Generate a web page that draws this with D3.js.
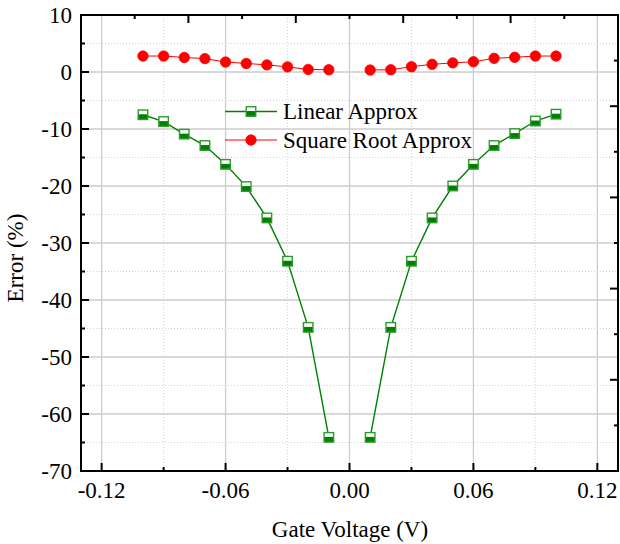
<!DOCTYPE html>
<html>
<head>
<meta charset="utf-8">
<script src="https://cdn.jsdelivr.net/npm/d3@7/dist/d3.min.js"></script>
<style>
  html, body { margin: 0; padding: 0; background: #fff; }
  svg { display: block; }
  text { font-family: "Liberation Serif", "Times New Roman", serif; fill: #000; }
</style>
</head>
<body>
<svg id="chart" width="620" height="544"></svg>
<script>
// Gate voltage sweep (V); no sample at 0 V
const voltages = [-0.10, -0.09, -0.08, -0.07, -0.06, -0.05, -0.04, -0.03, -0.02, -0.01,
                   0.01,  0.02,  0.03,  0.04,  0.05,  0.06,  0.07,  0.08,  0.09,  0.10];
// Error (%) of each approximation
const linearError = [-7.5, -8.7, -10.9, -12.9, -16.2, -20.1, -25.6, -33.2, -44.8, -64.1,
                     -64.1, -44.8, -33.2, -25.6, -20.0, -16.2, -12.9, -10.8, -8.6, -7.4];
const sqrtError   = [2.8, 2.8, 2.55, 2.35, 1.75, 1.5, 1.25, 0.9, 0.45, 0.4,
                     0.35, 0.4, 0.93, 1.35, 1.6, 1.8, 2.4, 2.58, 2.8, 2.8];
const seriesNames = ["Linear Approx", "Square Root Approx"];

// Axis ticks and labels
const xMajorTicks = [-0.12, -0.06, 0.00, 0.06, 0.12];
const xMajorLabels = ["-0.12", "-0.06", "0.00", "0.06", "0.12"];
const xMinorTicks = [-0.09, -0.03, 0.03, 0.09];
const yMajorTicks = [10, 0, -10, -20, -30, -40, -50, -60, -70];
const yMajorLabels = ["10", "0", "-10", "-20", "-30", "-40", "-50", "-60", "-70"];
const yMinorTicks = [5, -5, -15, -25, -35, -45, -55, -65];
const xTitle = "Gate Voltage (V)";
const yTitle = "Error (%)";

const green = "#008000";
const red = "#ff0000";
const plot = { left: 81, right: 618, top: 15, bottom: 471 };

const svg = d3.select("#chart");
const x = d3.scaleLinear().domain([-0.13, 0.13]).range([plot.left, plot.right]);
const y = d3.scaleLinear().domain([-70, 10]).range([plot.bottom, plot.top]);
// secondary (unlabelled) frame scales for the top and right edges
const xTop = d3.scaleLinear().domain([0, 10]).range([plot.left, plot.right]);
const yRight = d3.scaleLinear().domain([0, 10]).range([plot.top, plot.bottom]);

// grid: dotted minor lines, solid major lines
const grid = svg.append("g");
grid.selectAll(".vminor").data(xMinorTicks).join("line")
  .attr("x1", d => x(d)).attr("x2", d => x(d))
  .attr("y1", plot.top).attr("y2", plot.bottom)
  .attr("stroke", "#d4d4d4").attr("stroke-width", 1).attr("stroke-dasharray", "1,2");
grid.selectAll(".hminor").data(yMinorTicks).join("line")
  .attr("y1", d => y(d)).attr("y2", d => y(d))
  .attr("x1", plot.left).attr("x2", plot.right)
  .attr("stroke", "#d4d4d4").attr("stroke-width", 1).attr("stroke-dasharray", "1,2");
grid.selectAll(".vmajor").data(xMajorTicks).join("line")
  .attr("x1", d => x(d)).attr("x2", d => x(d))
  .attr("y1", plot.top).attr("y2", plot.bottom)
  .attr("stroke", "#cccccc").attr("stroke-width", 1.3);
grid.selectAll(".hmajor").data(yMajorTicks).join("line")
  .attr("y1", d => y(d)).attr("y2", d => y(d))
  .attr("x1", plot.left).attr("x2", plot.right)
  .attr("stroke", "#cccccc").attr("stroke-width", 1.3);

// data split into negative and positive branches (no line across 0 V)
function branches(values) {
  const pts = voltages.map((v, i) => [v, values[i]]);
  return [pts.filter(p => p[0] < 0), pts.filter(p => p[0] > 0)];
}
const line = d3.line().x(d => x(d[0])).y(d => y(d[1]));

function squareMarker(g, cx, cy, s) {
  g.append("rect").attr("x", cx - s / 2).attr("y", cy - s / 2)
    .attr("width", s).attr("height", s).attr("fill", "#fff");
  g.append("rect").attr("x", cx - s / 2).attr("y", cy - s * 0.05)
    .attr("width", s).attr("height", s * 0.55).attr("fill", green);
  g.append("rect").attr("x", cx - s / 2).attr("y", cy - s / 2)
    .attr("width", s).attr("height", s).attr("fill", "none")
    .attr("stroke", "#2e9a2e").attr("stroke-width", 1.4);
}
function circleMarker(g, cx, cy) {
  g.append("circle").attr("cx", cx).attr("cy", cy).attr("r", 5.2)
    .attr("fill", red).attr("stroke", red).attr("stroke-width", 0.8);
}

const series = svg.append("g");
branches(linearError).forEach(b => {
  series.append("path").attr("d", line(b)).attr("fill", "none")
    .attr("stroke", green).attr("stroke-width", 1.4);
});
branches(sqrtError).forEach(b => {
  series.append("path").attr("d", line(b)).attr("fill", "none")
    .attr("stroke", red).attr("stroke-width", 1);
});
voltages.forEach((v, i) => squareMarker(series, x(v), y(linearError[i]), 9.5));
voltages.forEach((v, i) => circleMarker(series, x(v), y(sqrtError[i])));

// frame
svg.append("rect").attr("x", plot.left).attr("y", plot.top)
  .attr("width", plot.right - plot.left).attr("height", plot.bottom - plot.top)
  .attr("fill", "none").attr("stroke", "#000").attr("stroke-width", 2);

// inward ticks
const ticks = svg.append("g").attr("stroke", "#000").attr("stroke-width", 2);
xMajorTicks.forEach(t => ticks.append("line")
  .attr("x1", x(t)).attr("x2", x(t)).attr("y1", plot.bottom).attr("y2", plot.bottom - 8));
xMinorTicks.forEach(t => ticks.append("line")
  .attr("x1", x(t)).attr("x2", x(t)).attr("y1", plot.bottom).attr("y2", plot.bottom - 4));
yMajorTicks.forEach(t => ticks.append("line")
  .attr("y1", y(t)).attr("y2", y(t)).attr("x1", plot.left).attr("x2", plot.left + 8));
yMinorTicks.forEach(t => ticks.append("line")
  .attr("y1", y(t)).attr("y2", y(t)).attr("x1", plot.left).attr("x2", plot.left + 4));
xTop.ticks(10).forEach(t => ticks.append("line")
  .attr("x1", xTop(t)).attr("x2", xTop(t)).attr("y1", plot.top)
  .attr("y2", plot.top + (t % 2 === 0 ? 8 : 4)));
yRight.ticks(10).forEach(t => ticks.append("line")
  .attr("y1", yRight(t)).attr("y2", yRight(t)).attr("x1", plot.right)
  .attr("x2", plot.right - (t % 2 === 0 ? 8 : 4)));

// tick labels
const fs = 23;
svg.append("g").selectAll("text").data(xMajorTicks).join("text")
  .attr("x", d => x(d)).attr("y", 498).attr("text-anchor", "middle")
  .attr("font-size", fs).text((d, i) => xMajorLabels[i]);
svg.append("g").selectAll("text").data(yMajorTicks).join("text")
  .attr("x", 72).attr("y", d => y(d)).attr("dy", "0.34em").attr("text-anchor", "end")
  .attr("font-size", fs).text((d, i) => yMajorLabels[i]);

// axis titles
svg.append("text").attr("x", 350).attr("y", 537).attr("text-anchor", "middle")
  .attr("font-size", fs).text(xTitle);
svg.append("text").attr("transform", "translate(23,258) rotate(-90)")
  .attr("text-anchor", "middle").attr("font-size", fs).text(yTitle);

// legend
const legend = svg.append("g");
const legendRows = [111.5, 140];
legendRows.forEach((ly, i) => {
  legend.append("line").attr("x1", 225).attr("x2", 277).attr("y1", ly).attr("y2", ly)
    .attr("stroke", i === 0 ? green : red).attr("stroke-width", i === 0 ? 1.4 : 1);
  if (i === 0) squareMarker(legend, 251, ly, 9.5); else circleMarker(legend, 251, ly);
  legend.append("text").attr("x", 283).attr("y", ly).attr("dy", "0.34em")
    .attr("font-size", fs).text(seriesNames[i]);
});
</script>
</body>
</html>
